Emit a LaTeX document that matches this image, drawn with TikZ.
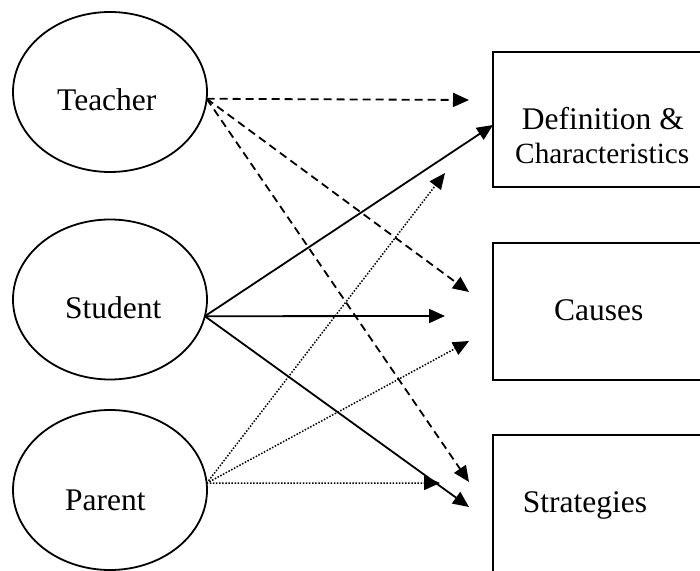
\documentclass[tikz,border=0pt]{standalone}
\usepackage{fontspec}
\setmainfont{Liberation Serif}
\usetikzlibrary{arrows.meta,shapes.geometric}
\begin{document}
\begin{tikzpicture}[x=1pt,y=1pt,
  actor/.style={draw,ellipse,line width=1.8pt,minimum width=194pt,minimum height=160pt,inner sep=0pt,outer sep=0pt},
  topic/.style={draw,rectangle,line width=1.8pt,anchor=north west,minimum width=260pt,inner sep=0pt,outer sep=0pt},
  txt/.style={anchor=base west,inner sep=0pt,font=\fontsize{31.5}{36}\selectfont},
  smalltxt/.style={anchor=base west,inner sep=0pt,font=\fontsize{29.3}{34}\selectfont},
  tip/.style={-{Triangle[length=16pt,width=14pt]}},
  dashline/.style={tip,line width=1.8pt,dash pattern=on 8pt off 5pt},
  solidline/.style={tip,line width=1.8pt},
  dotline/.style={tip,line width=1.5pt,dash pattern=on 1.5pt off 1.6pt}
]
\useasboundingbox (0,0) rectangle (700,570);
\clip (0,0) rectangle (700,570);
\fill[white] (0,0) rectangle (700,570);

% actors
\node[actor] (teacher) at (110,478) {};
\node[actor] (student) at (110,270.5) {};
\node[actor] (parent)  at (110,80) {};
\node[txt] (teachertxt) at (57,459.3) {Teacher};
\node[txt] (studenttxt) at (65,251.7) {Student};
\node[txt] (parenttxt)  at (65,60) {Parent};

% topics
\node[topic,minimum height=135pt] (def) at (493,518) {};
\node[topic,minimum height=137pt] (cau) at (493,327) {};
\node[topic,minimum height=160pt] (str) at (493,135) {};
\node[txt] (deftxta) at (521.7,440.7) {Definition \&};
\node[smalltxt] (deftxtb) at (515,406.7) {Characteristics};
\node[txt] (cautxt) at (554,249.3) {Causes};
\node[txt] (strtxt) at (522.7,57.3) {Strategies};

% arrow end points
\coordinate (td) at (469,470);
\coordinate (tc) at (469,278);
\coordinate (ts) at (469,88);
\coordinate (sd) at (493,445);
\coordinate (sc) at (445,254);
\coordinate (ss) at (469,63);
\coordinate (pd) at (445,397);
\coordinate (pc) at (469,229);
\coordinate (ps) at (440,87);

% teacher (dashed)
\draw[dashline] (teacher.-4.7) -- (td);
\draw[dashline] (teacher.-4.7) -- (tc);
\draw[dashline] (teacher.-4.7) -- (ts);
% student (solid)
\draw[solidline] (student.-10) -- (sd);
\draw[solidline] (student.-10) -- (sc);
\draw[solidline] (student.-10) -- (ss);
% parent (dotted)
\draw[dotline] (parent.4.1) -- (pd);
\draw[dotline] (parent.4.1) -- (pc);
\draw[dotline] (parent.4.1) -- (ps);
\end{tikzpicture}
\end{document}
